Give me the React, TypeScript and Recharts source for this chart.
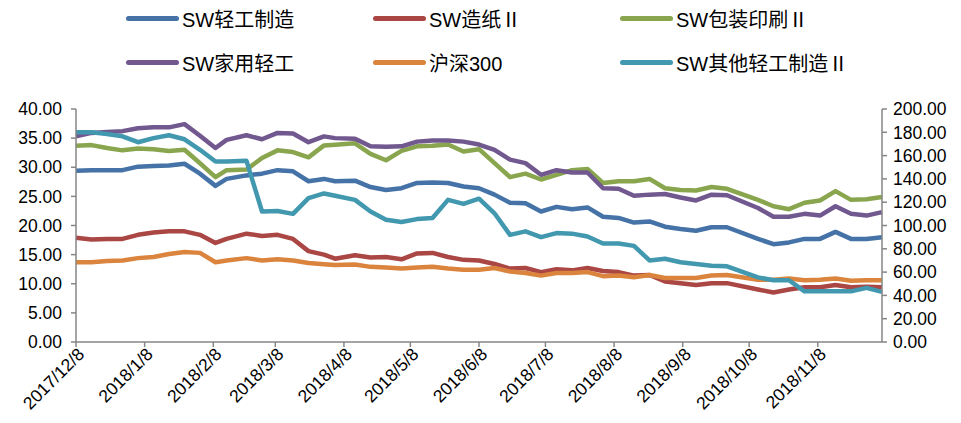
import { LineChart, Line, XAxis, YAxis } from 'recharts';

const DATES = [
  '2017/12/8', '2017/12/15', '2017/12/22', '2017/12/29', '2018/1/5', '2018/1/12', '2018/1/19', '2018/1/26',
  '2018/2/2', '2018/2/9', '2018/2/14', '2018/2/23', '2018/3/2', '2018/3/9', '2018/3/16', '2018/3/23',
  '2018/3/30', '2018/4/4', '2018/4/13', '2018/4/20', '2018/4/27', '2018/5/4', '2018/5/11', '2018/5/18',
  '2018/5/25', '2018/6/1', '2018/6/8', '2018/6/15', '2018/6/22', '2018/6/29', '2018/7/6', '2018/7/13',
  '2018/7/20', '2018/7/27', '2018/8/3', '2018/8/10', '2018/8/17', '2018/8/24', '2018/8/31', '2018/9/7',
  '2018/9/14', '2018/9/21', '2018/9/28', '2018/10/12', '2018/10/19', '2018/10/26', '2018/11/2', '2018/11/9',
  '2018/11/16', '2018/11/23', '2018/11/30', '2018/12/7',
];

const TICK_DATES = [
  '2017/12/8', '2018/1/8', '2018/2/8', '2018/3/8', '2018/4/8', '2018/5/8',
  '2018/6/8', '2018/7/8', '2018/8/8', '2018/9/8', '2018/10/8', '2018/11/8',
];

// left axis
const QGZZ = [29.4, 29.5, 29.5, 29.5, 30.1, 30.2, 30.3, 30.6, 28.9, 26.8, 28.0, 28.6, 28.9, 29.5, 29.3, 27.6, 28.0, 27.6, 27.7, 26.6, 26.1, 26.4, 27.3, 27.4, 27.3, 26.7, 26.4, 25.3, 23.9, 23.8, 22.4, 23.2, 22.8, 23.1, 21.5, 21.3, 20.5, 20.7, 19.8, 19.4, 19.1, 19.7, 19.7, 17.7, 16.8, 17.1, 17.7, 17.7, 18.9, 17.7, 17.7, 18.0];
const ZZ = [17.9, 17.6, 17.7, 17.7, 18.4, 18.8, 19.0, 19.0, 18.4, 17.0, 17.7, 18.6, 18.2, 18.4, 17.7, 15.6, 15.0, 14.3, 14.9, 14.5, 14.6, 14.2, 15.2, 15.3, 14.6, 14.1, 14.0, 13.4, 12.6, 12.7, 12.0, 12.5, 12.3, 12.7, 12.2, 12.0, 11.4, 11.5, 10.4, 10.1, 9.8, 10.1, 10.1, 9.0, 8.5, 9.0, 9.4, 9.4, 9.8, 9.4, 9.5, 9.4];
const BZYS = [33.7, 33.8, 33.3, 32.9, 33.2, 33.1, 32.8, 33.0, 30.7, 28.3, 29.5, 29.6, 31.6, 32.9, 32.6, 31.7, 33.75, 33.85, 34.1, 32.3, 31.2, 32.8, 33.6, 33.7, 33.9, 32.7, 33.1, 30.7, 28.3, 28.9, 27.9, 28.7, 29.5, 29.7, 27.3, 27.6, 27.6, 28.0, 26.4, 26.1, 26.0, 26.6, 26.3, 24.4, 23.3, 22.8, 23.9, 24.3, 25.9, 24.4, 24.5, 24.9];
const JYQG = [35.3, 35.9, 36.05, 36.2, 36.7, 36.85, 36.85, 37.4, 35.4, 33.3, 34.7, 35.5, 34.8, 35.9, 35.8, 34.3, 35.3, 35.0, 34.9, 33.6, 33.5, 33.6, 34.4, 34.6, 34.6, 34.4, 33.9, 33.0, 31.3, 30.7, 28.7, 29.5, 29.1, 29.1, 26.4, 26.3, 25.1, 25.3, 25.4, 24.8, 24.3, 25.3, 25.2, 23.0, 21.5, 21.5, 22.0, 21.7, 23.3, 22.0, 21.7, 22.3];
const HS300 = [13.7, 13.7, 13.9, 14.0, 14.4, 14.6, 15.1, 15.45, 15.3, 13.7, 14.0, 14.4, 14.0, 14.2, 14.0, 13.55, 13.35, 13.2, 13.3, 12.9, 12.8, 12.6, 12.8, 12.9, 12.6, 12.4, 12.4, 12.7, 12.1, 11.85, 11.4, 11.85, 11.85, 12.0, 11.3, 11.4, 11.1, 11.5, 11.0, 11.0, 11.0, 11.4, 11.5, 10.7, 10.7, 10.9, 10.6, 10.7, 10.9, 10.5, 10.6, 10.6];
// right axis
const QTQG = [180, 180, 178.5, 176.5, 171.5, 175, 177.5, 174, 165, 155, 155, 155.5, 112, 112.5, 110, 123.5, 127.5, 125.5, 122, 112, 105, 103, 105.5, 106.5, 122, 118.5, 123, 110.5, 92, 95, 90, 93.5, 93, 90.5, 84.5, 84.5, 82.5, 70, 71.5, 68.5, 67, 65.5, 65, 55.5, 53, 53, 43.5, 43.5, 43.5, 43.5, 46.5, 43];

const LEFT_TICKS = [0, 5, 10, 15, 20, 25, 30, 35, 40];
const RIGHT_TICKS = [0, 20, 40, 60, 80, 100, 120, 140, 160, 180, 200];

const SERIES = [
  { key: 'qgzz', name: 'SW轻工制造', color: '#4572A7', values: QGZZ, axis: 'left' },
  { key: 'zz', name: 'SW造纸Ⅱ', color: '#AA4643', values: ZZ, axis: 'left' },
  { key: 'bzys', name: 'SW包装印刷Ⅱ', color: '#89A54E', values: BZYS, axis: 'left' },
  { key: 'jyqg', name: 'SW家用轻工', color: '#71588F', values: JYQG, axis: 'left' },
  { key: 'hs300', name: '沪深300', color: '#DB843D', values: HS300, axis: 'left' },
  { key: 'qtqg', name: 'SW其他轻工制造Ⅱ', color: '#4198AF', values: QTQG, axis: 'right' },
];

const toTime = (s: string) => {
  const [y, m, d] = s.split('/').map(Number);
  return Date.UTC(y, m - 1, d);
};

const data = DATES.map((d, i) => {
  const row: Record<string, number> = { t: toTime(d) };
  SERIES.forEach((s) => {
    row[s.key] = s.values[i];
  });
  return row;
});

const xTicks = TICK_DATES.map(toTime);
const AXIS_COLOR = '#868686';
const FONT = '"Liberation Sans", "Noto Sans CJK SC", sans-serif';

function DateTick({ x, y, payload }: any) {
  const idx = xTicks.indexOf(payload.value);
  const label = idx >= 0 ? TICK_DATES[idx] : '';
  return (
    <text
      x={x + 5}
      y={y + 2}
      transform={`rotate(-45 ${x + 5} ${y + 2})`}
      textAnchor="end"
      dy="0.35em"
      fontSize={17.5}
      fontFamily={FONT}
      fill="#000"
    >
      {label}
    </text>
  );
}

const LEGEND_COLS = [126, 373, 620];
const LEGEND_ROWS = [18, 62];

function ChartLegend() {
  return (
    <>
      {SERIES.map((s, i) => {
        const left = LEGEND_COLS[i % 3];
        const top = LEGEND_ROWS[Math.floor(i / 3)];
        return (
          <div
            key={s.key}
            style={{
              position: 'absolute',
              left,
              top: top - 13,
              height: 26,
              display: 'flex',
              alignItems: 'center',
              fontFamily: FONT,
              fontSize: 20,
              color: '#000',
              whiteSpace: 'nowrap',
            }}
          >
            <span
              style={{
                display: 'inline-block',
                width: 53,
                height: 5,
                borderRadius: 3,
                backgroundColor: s.color,
                marginRight: 3,
              }}
            />
            <span>{s.name}</span>
          </div>
        );
      })}
    </>
  );
}

export default function App() {
  return (
    <div style={{ position: 'absolute', left: 0, top: 0, width: 961, height: 423, background: '#fff' }}>
      <ChartLegend />
      <LineChart
        width={961}
        height={423}
        data={data}
        margin={{ top: 109, right: 0, left: 0, bottom: 0 }}
      >
        <XAxis
          dataKey="t"
          type="number"
          domain={[toTime('2017/12/8'), toTime('2018/12/7')]}
          ticks={xTicks}
          interval={0}
          height={81}
          tickSize={5}
          tickMargin={2}
          axisLine={{ stroke: AXIS_COLOR, strokeWidth: 1.5 }}
          tickLine={{ stroke: AXIS_COLOR, strokeWidth: 1.5 }}
          tick={<DateTick />}
        />
        <YAxis
          yAxisId="left"
          orientation="left"
          width={76}
          domain={[0, 40]}
          ticks={LEFT_TICKS}
          interval={0}
          tickSize={5}
          tickMargin={9}
          tickFormatter={(v: number) => v.toFixed(2)}
          axisLine={{ stroke: AXIS_COLOR, strokeWidth: 1.5 }}
          tickLine={{ stroke: AXIS_COLOR, strokeWidth: 1.5 }}
          tick={{ fontSize: 17.5, fill: '#000', fontFamily: FONT }}
        />
        <YAxis
          yAxisId="right"
          orientation="right"
          width={79}
          domain={[0, 200]}
          ticks={RIGHT_TICKS}
          interval={0}
          tickSize={5}
          tickMargin={6}
          tickFormatter={(v: number) => v.toFixed(2)}
          axisLine={{ stroke: AXIS_COLOR, strokeWidth: 1.5 }}
          tickLine={{ stroke: AXIS_COLOR, strokeWidth: 1.5 }}
          tick={{ fontSize: 17.5, fill: '#000', fontFamily: FONT }}
        />
        {SERIES.map((s) => (
          <Line
            key={s.key}
            yAxisId={s.axis}
            dataKey={s.key}
            name={s.name}
            type="linear"
            stroke={s.color}
            strokeWidth={4.5}
            strokeLinejoin="round"
            dot={false}
            activeDot={false}
            isAnimationActive={false}
          />
        ))}
      </LineChart>
    </div>
  );
}
